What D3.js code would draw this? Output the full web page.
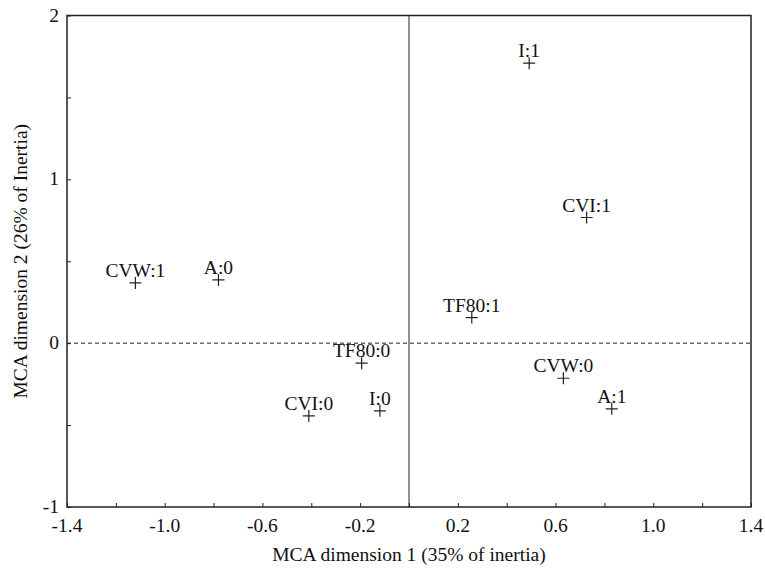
<!DOCTYPE html>
<html>
<head>
<meta charset="utf-8">
<script src="https://cdn.jsdelivr.net/npm/d3@7"></script>
<style>
  body { margin: 0; background: #fff; }
  text { font-family: "Liberation Serif", "Times New Roman", serif; fill: #111; }
</style>
</head>
<body>
<svg id="mca" width="765" height="568"></svg>
<script>
// MCA category coordinates
const labels = ["CVW:1", "A:0", "TF80:0", "CVI:0", "I:0", "I:1", "CVI:1", "TF80:1", "CVW:0", "A:1"];
const dim1 = [-1.12, -0.78, -0.194, -0.41, -0.119, 0.492, 0.727, 0.257, 0.632, 0.830];
const dim2 = [0.368, 0.386, -0.122, -0.444, -0.413, 1.709, 0.767, 0.156, -0.214, -0.401];

const xTicks = [-1.4, -1.2, -1.0, -0.8, -0.6, -0.4, -0.2, 0, 0.2, 0.4, 0.6, 0.8, 1.0, 1.2, 1.4];
const xTickLabels = ["-1.4", "-1.0", "-0.6", "-0.2", "0.2", "0.6", "1.0", "1.4"];
const yTicks = [-1, -0.5, 0, 0.5, 1, 1.5, 2];
const yTickLabels = ["-1", "0", "1", "2"];

const svg = d3.select("svg#mca");

margin = ({ top: 15.5, right: 14, bottom: 61, left: 67 });
width = 765;
height = 568;
fontSize = 19.5;

let x = d3.scaleLinear()
  .domain([-1.4, 1.4])
  .range([margin.left, width - margin.right]);

let y = d3.scaleLinear()
  .domain([-1, 2])
  .range([height - margin.bottom, margin.top]);

// ticks pointing inward
svg.append("g")
  .attr("transform", translate(0, y(-1)))
  .call(d3.axisTop(x).tickValues(xTicks).tickSize(4).tickFormat(""))
  .call(g => g.select(".domain").remove())
  .selectAll("line").attr("stroke", "#222");

svg.append("g")
  .attr("transform", translate(x(-1.4), 0))
  .call(d3.axisRight(y).tickValues(yTicks).tickSize(4).tickFormat(""))
  .call(g => g.select(".domain").remove())
  .selectAll("line").attr("stroke", "#222");

// tick labels
svg.append("g")
  .selectAll("text")
  .data(xTickLabels)
  .join("text")
  .attr("x", d => x(+d))
  .attr("y", y(-1) + 25)
  .attr("text-anchor", "middle")
  .style("font-size", fontSize + "px")
  .text(d => d);

svg.append("g")
  .selectAll("text")
  .data(yTickLabels)
  .join("text")
  .attr("x", x(-1.4) - 8)
  .attr("y", d => y(+d) + 6)
  .attr("text-anchor", "end")
  .style("font-size", fontSize + "px")
  .text(d => d);

// frame
svg.append("rect")
  .attr("x", x(-1.4))
  .attr("y", y(2))
  .attr("width", x(1.4) - x(-1.4))
  .attr("height", y(-1) - y(2))
  .attr("fill", "none")
  .attr("stroke", "#222")
  .attr("stroke-width", 1.5);

// reference lines
svg.append("line")
  .attr("x1", x(0)).attr("x2", x(0))
  .attr("y1", y(2)).attr("y2", y(-1))
  .attr("stroke", "#222");

svg.append("line")
  .attr("x1", x(-1.4)).attr("x2", x(1.4))
  .attr("y1", y(0)).attr("y2", y(0))
  .attr("stroke", "#222")
  .attr("stroke-dasharray", "4,3");

// points
let pts = labels.map((l, i) => ({ label: l, d1: dim1[i], d2: dim2[i] }));

let marks = svg.append("g")
  .selectAll("g")
  .data(pts)
  .join("g")
  .attr("transform", d => translate(x(d.d1), y(d.d2)));

marks.append("path")
  .attr("d", "M-6,0H6M0,-6V6")
  .attr("stroke", "#222")
  .attr("stroke-width", 1.2);

marks.append("text")
  .attr("x", 0)
  .attr("y", -6)
  .attr("text-anchor", "middle")
  .style("font-size", fontSize + "px")
  .text(d => d.label);

// axis titles
svg.append("text")
  .attr("x", x(0))
  .attr("y", 561)
  .attr("text-anchor", "middle")
  .style("font-size", fontSize + "px")
  .text("MCA dimension 1 (35% of inertia)");

svg.append("text")
  .attr("transform", "translate(27," + y(0.5) + ") rotate(-90)")
  .attr("text-anchor", "middle")
  .style("font-size", fontSize + "px")
  .text("MCA dimension 2 (26% of Inertia)");

function translate(x, y) {
  return 'translate(' + x + ',' + y + ')';
}
</script>
</body>
</html>
